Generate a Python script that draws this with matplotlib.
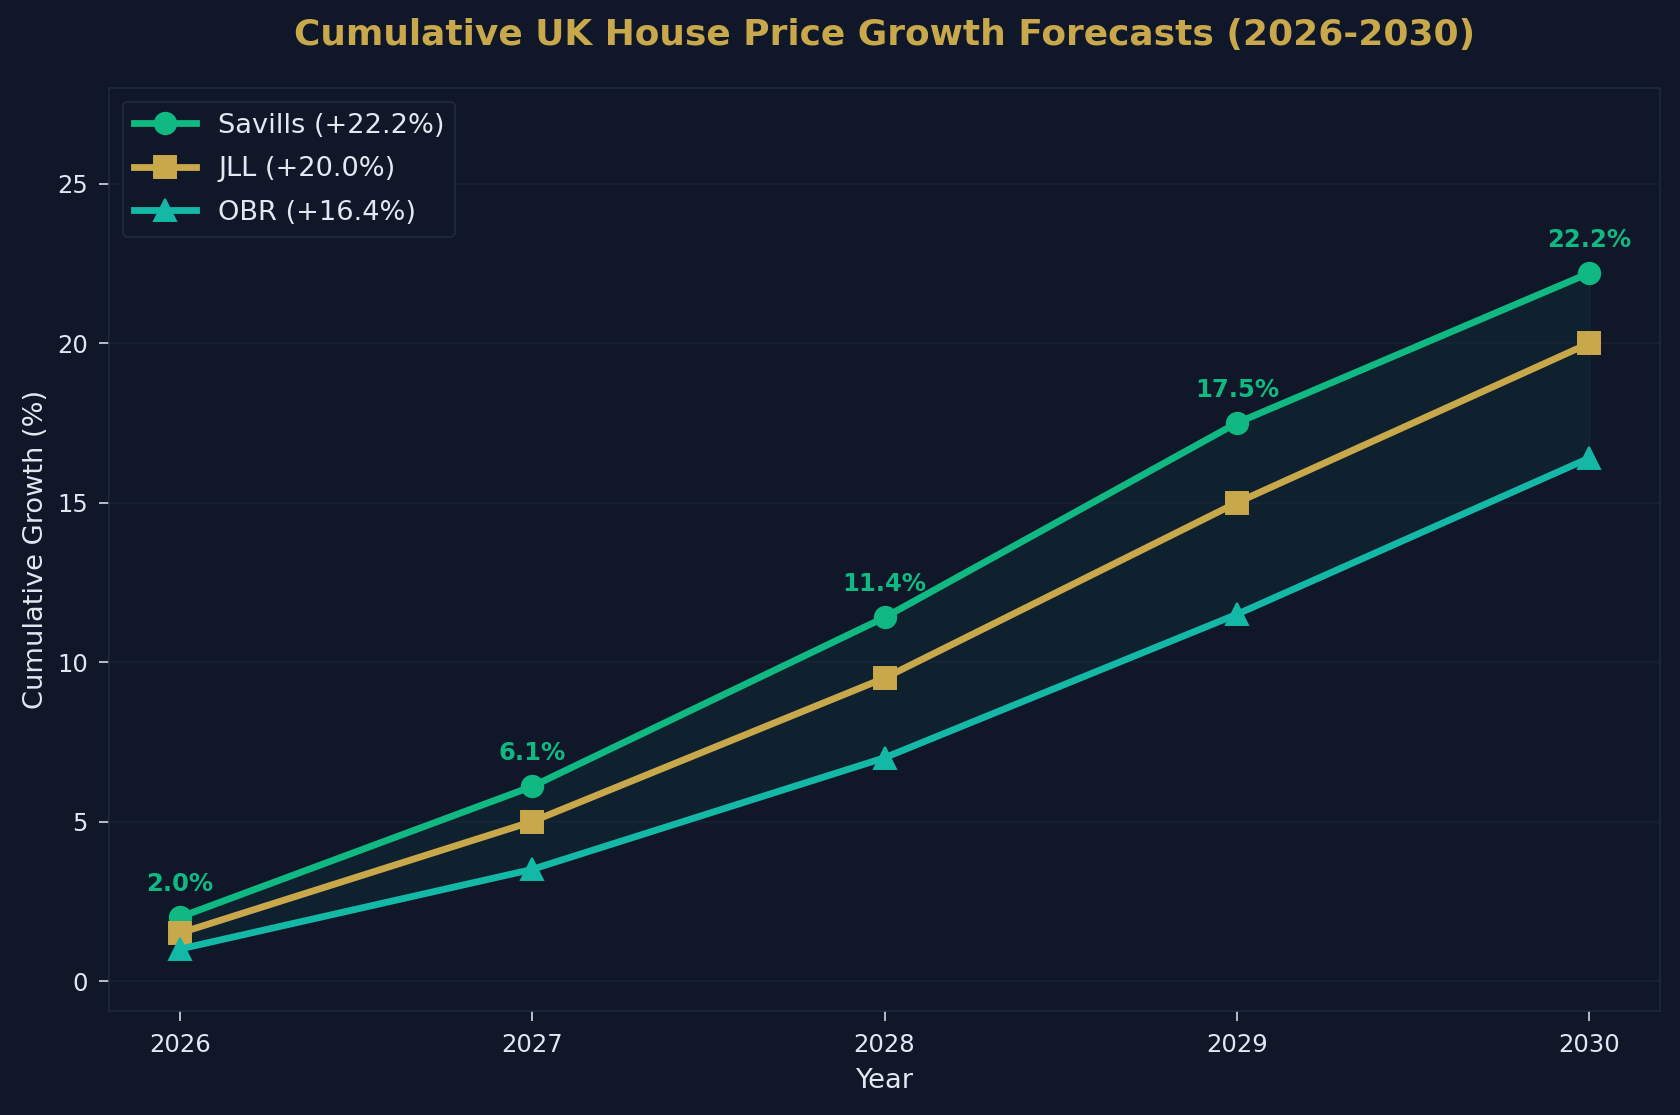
import matplotlib.pyplot as plt

years = [2026, 2027, 2028, 2029, 2030]
savills = [2.0, 6.1, 11.4, 17.5, 22.2]
jll = [1.5, 5.0, 9.5, 15.0, 20.0]
obr = [1.0, 3.5, 7.0, 11.5, 16.4]

bg = "#0f1729"
text_c = "#e2e8f0"
green = "#10b981"
gold = "#c9a84c"
teal = "#14b8a6"

fig, ax = plt.subplots(figsize=(12, 1115 / 140), dpi=140)
fig.patch.set_facecolor(bg)
ax.set_facecolor(bg)
fig.subplots_adjust(left=0.065, right=0.988, top=0.921, bottom=0.093)

ax.fill_between(years, obr, savills, color=green, alpha=0.06)
ax.plot(years, savills, color=green, lw=3.5, marker="o", ms=11, label="Savills (+22.2%)")
ax.plot(years, jll, color=gold, lw=3.5, marker="s", ms=11, label="JLL (+20.0%)")
ax.plot(years, obr, color=teal, lw=3.5, marker="^", ms=11, label="OBR (+16.4%)")

for x, y in zip(years, savills):
    ax.annotate(f"{y:.1f}%", (x, y), xytext=(0, 11), textcoords="offset points",
                ha="center", va="bottom", color=green, fontsize=12.5, fontweight="bold")

ax.set_ylim(-0.95, 28)
ax.set_xticks(years)
ax.set_title("Cumulative UK House Price Growth Forecasts (2026-2030)",
             color=gold, fontsize=18.5, fontweight="bold", pad=22)
ax.set_xlabel("Year", color=text_c, fontsize=14, labelpad=6)
ax.set_ylabel("Cumulative Growth (%)", color=text_c, fontsize=14, labelpad=4)
ax.tick_params(colors=text_c, labelsize=12.5, length=5, pad=6)
ax.grid(True, axis="y", color="#1e293b", lw=0.8, alpha=0.6)
for s in ax.spines.values():
    s.set_color("#1e293b")

leg = ax.legend(loc="upper left", fontsize=14, facecolor=bg, edgecolor="#1e293b",
                labelcolor=text_c, framealpha=1, labelspacing=0.65, handlelength=2.3)

fig.savefig("out.png", facecolor=bg)
